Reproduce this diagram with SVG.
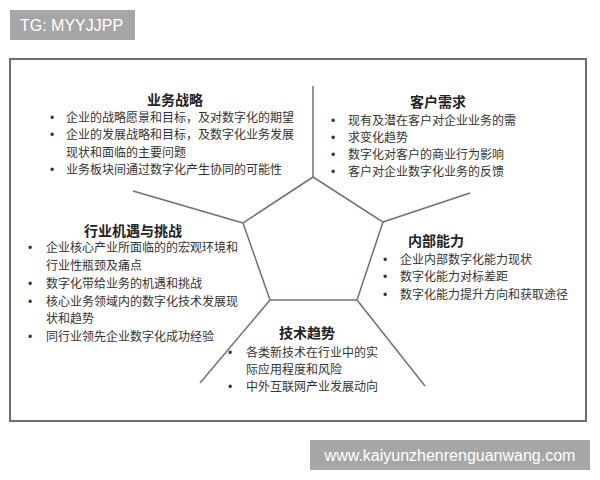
<svg xmlns="http://www.w3.org/2000/svg" width="600" height="480" viewBox="0 0 600 480">
<style>
.t{font-family:"Liberation Sans","Noto Sans CJK SC",sans-serif;font-size:12px;fill:#333}
.h{font-family:"Liberation Sans","Noto Sans CJK SC",sans-serif;font-size:14px;font-weight:bold;fill:#222;text-anchor:middle}
.ln{stroke:#6b737a;stroke-width:1.5;fill:none}
.wm{font-family:"Liberation Sans",sans-serif;font-size:16px;fill:#fff}
</style>
<rect width="600" height="480" fill="#fff"/>
<rect x="10" y="59" width="576" height="362" fill="#fff" stroke="#6b6f72" stroke-width="2"/>
<g id="connectors">
<polygon class="ln" points="313,177 383,222 357,300 270,300 243,223"/>
<line class="ln" x1="313" y1="177" x2="313" y2="86"/>
<line class="ln" x1="383" y1="222" x2="470" y2="193"/>
<line class="ln" x1="357" y1="300" x2="425" y2="386"/>
<line class="ln" x1="270" y1="300" x2="200" y2="383"/>
<line class="ln" x1="243" y1="223" x2="133" y2="191"/>
</g>
<g id="strategy">
<text class="h" x="175" y="105">业务战略</text>
<text class="t" x="50" y="122">•</text><text class="t" x="66" y="122">企业的战略愿景和目标，及对数字化的期望</text>
<text class="t" x="50" y="139">•</text><text class="t" x="66" y="139">企业的发展战略和目标，及数字化业务发展</text>
<text class="t" x="66" y="157">现状和面临的主要问题</text>
<text class="t" x="50" y="174">•</text><text class="t" x="66" y="174">业务板块间通过数字化产生协同的可能性</text>
</g>
<g id="customer">
<text class="h" x="438" y="107">客户需求</text>
<text class="t" x="331" y="125">•</text><text class="t" x="348" y="125">现有及潜在客户对企业业务的需</text>
<text class="t" x="331" y="142">•</text><text class="t" x="348" y="142">求变化趋势</text>
<text class="t" x="331" y="159">•</text><text class="t" x="348" y="159">数字化对客户的商业行为影响</text>
<text class="t" x="331" y="176">•</text><text class="t" x="348" y="176">客户对企业数字化业务的反馈</text>
</g>
<g id="industry">
<text class="h" x="133" y="236">行业机遇与挑战</text>
<text class="t" x="28" y="252">•</text><text class="t" x="46" y="252">企业核心产业所面临的的宏观环境和</text>
<text class="t" x="46" y="270">行业性瓶颈及痛点</text>
<text class="t" x="28" y="288">•</text><text class="t" x="46" y="288">数字化带给业务的机遇和挑战</text>
<text class="t" x="28" y="306">•</text><text class="t" x="46" y="306">核心业务领域内的数字化技术发展现</text>
<text class="t" x="46" y="323">状和趋势</text>
<text class="t" x="28" y="341">•</text><text class="t" x="46" y="341">同行业领先企业数字化成功经验</text>
</g>
<g id="internal">
<text class="h" x="436" y="246">内部能力</text>
<text class="t" x="383" y="264">•</text><text class="t" x="400" y="264">企业内部数字化能力现状</text>
<text class="t" x="383" y="281">•</text><text class="t" x="400" y="281">数字化能力对标差距</text>
<text class="t" x="383" y="299">•</text><text class="t" x="400" y="299">数字化能力提升方向和获取途径</text>
</g>
<g id="tech">
<text class="h" x="307" y="338">技术趋势</text>
<text class="t" x="228" y="357">•</text><text class="t" x="246" y="357">各类新技术在行业中的实</text>
<text class="t" x="246" y="374">际应用程度和风险</text>
<text class="t" x="228" y="391">•</text><text class="t" x="246" y="391">中外互联网产业发展动向</text>
</g>
<g id="wm1">
<rect x="10" y="10" width="125" height="30" fill="#a6a6a6"/>
<text class="wm" x="20" y="31">TG: MYYJJPP</text>
</g>
<g id="wm2">
<rect x="310" y="440" width="280" height="30" fill="#a6a6a6"/>
<text class="wm" x="450" y="461" text-anchor="middle">www.kaiyunzhenrenguanwang.com</text>
</g>
</svg>
